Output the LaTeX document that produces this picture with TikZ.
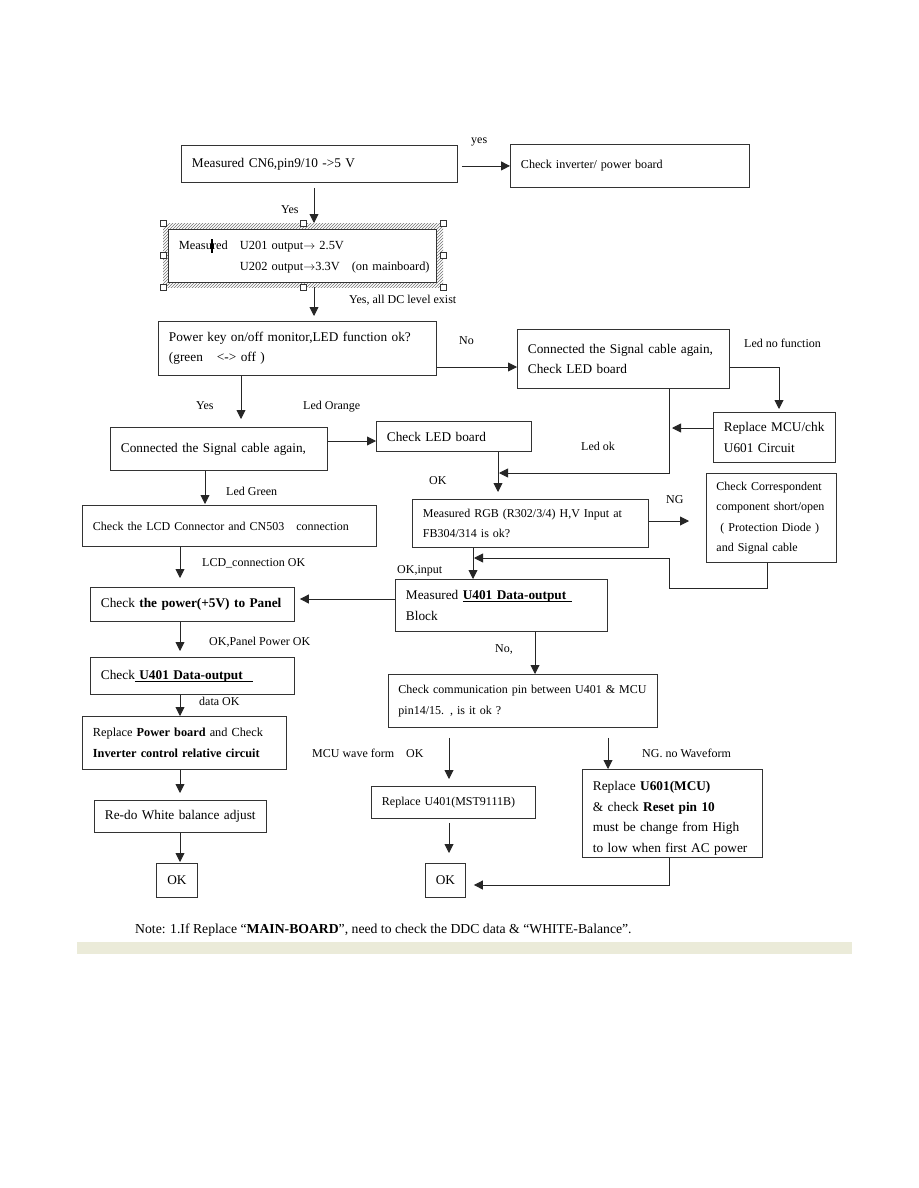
\documentclass[tikz,border=0pt]{standalone}
\usepackage{fontspec}
\setmainfont{Liberation Serif}
\usetikzlibrary{arrows.meta,patterns}
\definecolor{NoteBar}{HTML}{EBEBD9}
\newcommand{\fcfont}{\fontsize{13.3}{20.5}\selectfont}
\newcommand{\fcsize}[1]{\fontsize{#1}{20.5}\selectfont}
\newcommand{\lblfont}{\fontsize{12}{14}\selectfont}
\newcommand{\lineunder}[1]{\setbox0\hbox{#1}\rlap{\rule[-2.2pt]{\wd0}{0.7pt}}\box0}
\newcommand{\editcursor}{\makebox[0pt]{\rule[-3pt]{1.3pt}{14pt}}}
\newcommand{\toarrow}{$\rightarrow$}
\tikzset{
  fc box/.style={
    draw=black!80,
    fill=white,
    line width=0.9pt,
    anchor=north west,
    align=left,
    inner xsep=10.5pt,
    inner ysep=0pt,
    font=\fcfont
  },
  fc ok/.style={
    draw=black!80,
    line width=0.9pt,
    anchor=north west,
    align=center,
    inner sep=0pt,
    font=\fcfont
  },
  fc arrow/.style={
    -{Triangle[length=9pt,width=9pt]},
    draw=black!85,
    line width=0.9pt
  },
  fc label/.style={anchor=base west, inner sep=0pt, font=\lblfont},
  fc handle/.style={draw=black!80, fill=white, line width=0.6pt, minimum size=6pt, inner sep=0pt}
}

\begin{document}
\begin{tikzpicture}[x=1pt, y=-1pt]
        \useasboundingbox (0,0) rectangle (918,1188);
        \fill[white] (0,0) rectangle (918,1188);

        % top row
        \node[fc box,text width=255pt,minimum height=37pt] (cn6) at (181,145) {Measured CN6,pin9/10 ->5 V};
        \node[fc box,text width=218pt,minimum height=43pt,font=\fcsize{12.1}] (inv) at (510,144) {Check inverter/ power board};

        % selected box with handles
        \node[anchor=north west,minimum width=280pt,minimum height=64pt,inner sep=0pt,pattern=north east lines,pattern color=black!55] (dcmframe) at (163,223) {};
        \node[fc box,text width=247pt,minimum height=53pt,font=\fcsize{12.4}] (dcm) at (168,229)
          {\mbox{\makebox[61pt][l]{Measu\editcursor red}U201 output\toarrow{} 2.5V}\\\mbox{\hspace*{61pt}U202 output\toarrow 3.3V\hspace{12pt}(on mainboard)}};
        \foreach \a [count=\i] in {north west,north,north east,west,east,south west,south,south east}
          \node[fc handle] (hd\i) at (dcmframe.\a) {};

        \node[fc box,text width=257pt,minimum height=54pt] (pwr) at (158,321) {Power key on/off monitor,LED function ok?\\(green\hspace{14pt}<-> off )};
        \node[fc box,text width=191pt,minimum height=59pt] (sig1) at (517,329) {Connected the Signal cable again,\\Check LED board};
        \node[fc box,text width=101pt,minimum height=50pt] (mcu) at (713,412) {Replace MCU/chk\\U601 Circuit};
        \node[fc box,text width=196pt,minimum height=43pt] (sig2) at (110,427) {Connected the Signal cable again,};
        \node[fc box,text width=134pt,minimum height=30pt] (led1) at (376,421) {Check LED board};

        % middle
        \node[fc box,text width=273pt,minimum height=41pt,font=\fcsize{12}] (lcd) at (82,505) {Check the LCD Connector and CN503\hspace{12pt}connection};
        \node[fc box,text width=215pt,minimum height=48pt,font=\fcsize{12}] (rgb) at (412,499)
          {\makebox[\linewidth][s]{Measured RGB (R302/3/4) H,V Input at}\\FB304/314 is ok?};
        \node[fc box,text width=110pt,inner xsep=10pt,minimum height=89pt,font=\fcsize{12}] (corr) at (706,473)
          {\makebox[\linewidth][s]{Check Correspondent}\\\makebox[\linewidth][s]{component short/open}\\\makebox[\linewidth][s]{\ ( Protection Diode )}\\\makebox[\linewidth][s]{and Signal cable}};
        \node[fc box,text width=183pt,minimum height=34pt] (pan) at (90,587) {Check \textbf{the power(+5V) to Panel}};
        \node[fc box,text width=191pt,minimum height=52pt] (u401m) at (395,579) {Measured \lineunder{\textbf{U401 Data-output}\hspace{6pt}}\\Block};
        \node[fc box,text width=249pt,inner xsep=10pt,minimum height=53pt,font=\fcsize{12}] (comm) at (388,674)
          {\mbox{Check communication pin between U401 \& MCU}\\pin14/15. , is it ok ?};
        \node[fc box,text width=183pt,minimum height=37pt] (dat) at (90,657) {Check\lineunder{\textbf{\ U401 Data-output}\hspace{10pt}}};
        \node[fc box,text width=183pt,minimum height=53pt,font=\fcsize{12.3}] (rep) at (82,716)
          {\makebox[\linewidth][s]{Replace \textbf{Power board} and Check}\\\textbf{Inverter control relative circuit}};

        % bottom
        \node[fc box,text width=151pt,minimum height=32pt] (wb) at (94,800) {Re-do White balance adjust};
        \node[fc ok,minimum width=41pt,minimum height=34pt] (ok1) at (156,863) {OK};
        \node[fc box,text width=143pt,minimum height=32pt,font=\fcsize{12}] (mst) at (371,786) {Replace U401(MST9111B)};
        \node[fc ok,minimum width=40pt,minimum height=34pt] (ok2) at (425,863) {OK};
        \node[fc box,text width=159pt,minimum height=88pt] (u601) at (582,769)
          {\rule{0pt}{19pt}Replace \textbf{U601(MCU)}\\\& check \textbf{Reset pin 10}\\must be change from High\\to low when first AC power};

        % bends
        \coordinate (ledok) at (669,473);
        \coordinate (ngback) at (669,588);
        \coordinate (ngjoin) at (473,558);

        % connectors
        \draw[fc arrow,shorten <=4pt] (cn6.east |- inv.west) -- (inv.west);
        \draw[fc arrow,shorten <=5pt] (314,0 |- cn6.south) -- (314,0 |- dcmframe.north);
        \draw[fc arrow,shorten >=5pt] (314,0 |- dcmframe.south) -- (314,0 |- pwr.north);
        \draw[fc arrow] (pwr.east |- 0,367) -- (sig1.west |- 0,367);
        \draw[fc arrow,shorten >=3pt] (sig1.east |- 0,367) -| (779,0 |- mcu.north);
        \draw[fc arrow,shorten >=3pt] (mcu.west |- 0,428) -- (ledok |- 0,428);
        \draw[fc arrow,shorten >=1pt] (ledok |- sig1.south) -- (ledok) -- (498,0 |- ledok);
        \draw[fc arrow,shorten >=7pt] (498,0 |- led1.south) -- (498,0 |- rgb.north);
        \draw[fc arrow,shorten >=8pt] (241,0 |- pwr.south) -- (241,0 |- sig2.north);
        \draw[fc arrow] (sig2.east |- 0,441) -- (led1.west |- 0,441);
        \draw[fc arrow,shorten >=1pt] (205,0 |- sig2.south) -- (205,0 |- lcd.north);
        \draw[fc arrow,shorten >=9pt] (180,0 |- lcd.south) -- (180,0 |- pan.north);
        \draw[fc arrow] (473,0 |- rgb.south) -- (473,0 |- u401m.north);
        \draw[fc arrow,shorten >=17pt] (rgb.east |- 0,521) -- (corr.west |- 0,521);
        \draw[fc arrow,shorten >=1pt] (767,0 |- corr.south) |- (ngback) |- (ngjoin);
        \draw[fc arrow,shorten >=5pt] (u401m.west |- 0,599) -- (pan.east |- 0,599);
        \draw[fc arrow] (535,0 |- u401m.south) -- (535,0 |- comm.north);
        \draw[fc arrow,shorten >=6pt] (180,0 |- pan.south) -- (180,0 |- dat.north);
        \draw[fc arrow] (180,0 |- dat.south) -- (180,0 |- rep.north);
        \draw[fc arrow,shorten >=7pt] (180,0 |- rep.south) -- (180,0 |- wb.north);
        \draw[fc arrow,shorten >=1pt] (180,0 |- wb.south) -- (180,0 |- ok1.north);
        \draw[fc arrow,shorten <=10pt,shorten >=7pt] (449,0 |- comm.south) -- (449,0 |- mst.north);
        \draw[fc arrow,shorten <=4pt,shorten >=10pt] (449,0 |- mst.south) -- (449,0 |- ok2.north);
        \draw[fc arrow,shorten <=10pt] (608,0 |- comm.south) -- (608,0 |- u601.north);
        \draw[fc arrow,shorten >=8pt] (669,0 |- u601.south) |- (ok2.east |- 0,885);

        % connector labels
        \node[fc label] (lyes1) at (471,143) {yes};
        \node[fc label] (lyes2) at (281,213) {Yes};
        \node[fc label] (ldc) at (349,303) {Yes, all DC level exist};
        \node[fc label] (lno1) at (459,344) {No};
        \node[fc label] (lnofn) at (744,347) {Led no function};
        \node[fc label] (lyes3) at (196,409) {Yes};
        \node[fc label] (lorange) at (303,409) {Led Orange};
        \node[fc label] (ledokl) at (581,450) {Led ok};
        \node[fc label] (lok1) at (429,484) {OK};
        \node[fc label] (lgreen) at (226,495) {Led Green};
        \node[fc label] (lng1) at (666,503) {NG};
        \node[fc label] (llcd) at (202,566) {LCD\_connection OK};
        \node[fc label] (linput) at (397,573) {OK,input};
        \node[fc label] (lpanel) at (209,645) {OK,Panel Power OK};
        \node[fc label] (lno2) at (495,652) {No,};
        \node[fc label] (ldata) at (199,705) {data OK};
        \node[fc label] (lwave) at (312,757) {MCU wave form\hspace{12pt}OK};
        \node[fc label] (lng2) at (642,757) {NG. no Waveform};

        % note and bar
        \node[fc label,font=\fontsize{13.7}{16}\selectfont] (note) at (135,933) {Note: 1.If Replace “\textbf{MAIN-BOARD}”, need to check the DDC data \& “WHITE-Balance”.};
        \fill[NoteBar] (77,942) rectangle (852,954);
      \end{tikzpicture}
\end{document}
